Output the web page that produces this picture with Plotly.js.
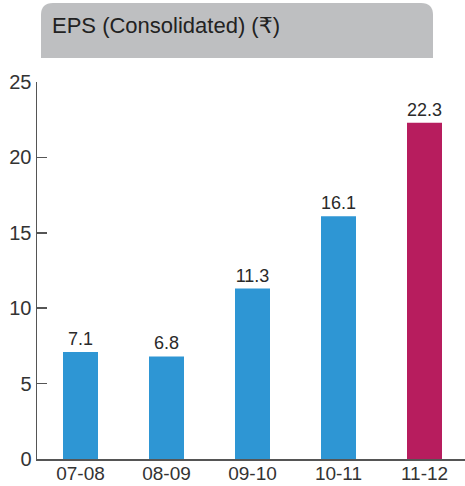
<!DOCTYPE html>
<html>
<head>
<meta charset="utf-8">
<script src="https://cdn.plot.ly/plotly-3.0.1.min.js"></script>
<style>html,body{margin:0;padding:0;background:#fff}#chart{width:465px;height:486px}</style>
</head>
<body>
<div id="chart"></div>
<script>
const categories = ["07-08", "08-09", "09-10", "10-11", "11-12"];
const eps = [7.1, 6.8, 11.3, 16.1, 22.3];
const valueLabels = ["7.1", "6.8", "11.3", "16.1", "22.3"];
const yTicks = [0, 5, 10, 15, 20, 25];
const titleText = "EPS (Consolidated) (₹)";

const W = 465, H = 486;
const M = {l: 37, r: 0, t: 82, b: 27};
const pw = W - M.l - M.r, ph = H - M.t - M.b;
const X = p => (p - M.l) / pw;
const Y = p => (H - M.b - p) / ph;

const blue = "#2E96D4", magenta = "#B71D5E";
const colors = categories.map((c, i) => i === categories.length - 1 ? magenta : blue);

const r = 12, bx0 = 41, bx1 = 433, by0 = 3, by1 = 58;
const boxPath = `M ${X(bx0)},${Y(by1)} L ${X(bx0)},${Y(by0 + r)} Q ${X(bx0)},${Y(by0)} ${X(bx0 + r)},${Y(by0)} L ${X(bx1 - r)},${Y(by0)} Q ${X(bx1)},${Y(by0)} ${X(bx1)},${Y(by0 + r)} L ${X(bx1)},${Y(by1)} Z`;

const font = "Liberation Sans, Arial, DejaVu Sans, sans-serif";

// category i centred at pixel 80.5 + 86*i
const xr0 = (M.l - 80.5) / 86, xr1 = (W - M.r - 80.5) / 86;

const trace = {
  type: "bar",
  x: categories,
  y: eps,
  text: valueLabels,
  textposition: "outside",
  textfont: {family: font, size: 18, color: "#2a2a2a"},
  cliponaxis: false,
  marker: {color: colors},
  width: 0.407,
  hoverinfo: "skip"
};

const layout = {
  width: W, height: H,
  margin: M,
  paper_bgcolor: "#fff", plot_bgcolor: "#fff",
  showlegend: false,
  font: {family: font, color: "#333"},
  xaxis: {
    type: "category",
    range: [xr0, xr1],
    showline: true, linecolor: "#555", linewidth: 1.5,
    ticks: "", showgrid: false, zeroline: false,
    tickfont: {family: font, size: 19, color: "#333"},
    ticklabelstandoff: -3,
    fixedrange: true
  },
  yaxis: {
    range: [0, 25],
    tickvals: yTicks,
    ticktext: yTicks.map(String),
    showline: true, linecolor: "#555", linewidth: 1.5,
    ticks: "inside", ticklen: 10, tickwidth: 1.5, tickcolor: "#555",
    showgrid: false, zeroline: false,
    tickfont: {family: font, size: 20, color: "#333"},
    fixedrange: true
  },
  shapes: [{
    type: "path", xref: "paper", yref: "paper",
    path: boxPath,
    fillcolor: "#BEBFC1", line: {width: 0}, layer: "below"
  }],
  annotations: [{
    xref: "paper", yref: "paper",
    x: X(50), y: Y(25), xanchor: "left", yanchor: "middle",
    text: titleText, showarrow: false,
    font: {family: font, size: 22, color: "#222"}
  }]
};

Plotly.newPlot("chart", [trace], layout, {displayModeBar: false, staticPlot: true});
</script>
</body>
</html>
